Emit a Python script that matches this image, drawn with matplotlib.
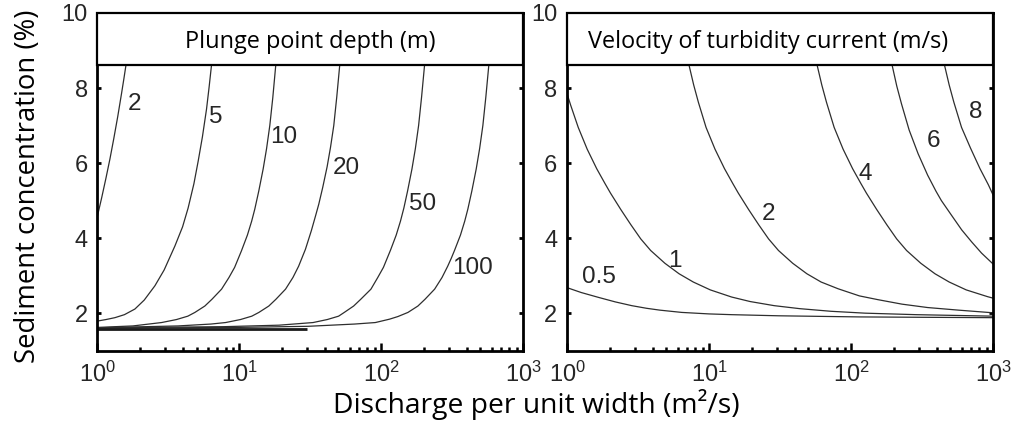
import matplotlib
matplotlib.use("Agg")
import matplotlib.pyplot as plt
from matplotlib.patches import Rectangle
from matplotlib.ticker import LogLocator, NullFormatter

# ---------------- data ----------------
# Left panel: plunge point depth curves, x = log10(q) with q in m2/s, y = C in %
depth_labels = ["2", "5", "10", "20", "50", "100"]
h2_lq = [0.0, 0.03, 0.06, 0.088, 0.115, 0.143, 0.17, 0.186, 0.201, 0.218]
h2_c = [4.59, 5.08, 5.6, 6.11, 6.65, 7.24, 7.86, 8.24, 8.61, 9.05]
h5_lq = [0.0, 0.06, 0.123, 0.19, 0.264, 0.33, 0.405, 0.47, 0.546, 0.60, 0.639,
         0.68, 0.71, 0.74, 0.769, 0.787, 0.804, 0.821]
h5_c = [1.79, 1.83, 1.88, 1.96, 2.11, 2.35, 2.73, 3.15, 3.79, 4.3, 4.80,
        5.45, 6.05, 6.7, 7.44, 8.02, 8.61, 9.2]
h10_lq = [0.0, 0.25, 0.452, 0.557, 0.637, 0.687, 0.757, 0.807, 0.875, 0.927, 0.967,
          1.015, 1.057, 1.087, 1.109, 1.137, 1.168, 1.192, 1.215, 1.236, 1.257, 1.273]
h10_c = [1.62, 1.66, 1.75, 1.83, 1.92, 2.02, 2.19, 2.37, 2.64, 2.95, 3.22,
         3.66, 4.08, 4.45, 4.77, 5.25, 5.84, 6.38, 7.0, 7.74, 8.61, 9.2]
h20_lq = [0.0, 0.569, 0.80, 0.903, 1.008, 1.088, 1.138, 1.208, 1.258, 1.326, 1.378,
          1.418, 1.466, 1.508, 1.538, 1.56, 1.588, 1.619, 1.643, 1.666, 1.687, 1.708, 1.724]
h20_c = [1.61, 1.66, 1.71, 1.75, 1.83, 1.92, 2.02, 2.19, 2.37, 2.64, 2.95,
         3.25, 3.7, 4.2, 4.6, 4.9, 5.35, 5.9, 6.42, 7.0, 7.76, 8.61, 9.2]
h50_lq = [0.0, 0.89, 1.28, 1.52, 1.62, 1.70, 1.74, 1.806, 1.856, 1.928, 1.976, 2.016,
          2.066, 2.106, 2.136, 2.16, 2.186, 2.217, 2.241, 2.264, 2.285, 2.306, 2.322]
h50_c = [1.61, 1.64, 1.68, 1.75, 1.83, 1.92, 2.02, 2.19, 2.37, 2.64, 2.95, 3.22,
         3.68, 4.08, 4.45, 4.8, 5.25, 5.84, 6.38, 7.0, 7.76, 8.61, 9.2]
h100_lq = [0.0, 0.986, 1.485, 1.813, 1.959, 2.059, 2.118, 2.189, 2.259, 2.309, 2.377,
           2.429, 2.469, 2.494, 2.517, 2.559, 2.589, 2.611, 2.639, 2.67, 2.694, 2.717,
           2.738, 2.759, 2.775]
h100_c = [1.60, 1.62, 1.65, 1.71, 1.75, 1.84, 1.91, 2.02, 2.19, 2.37, 2.64,
          2.95, 3.25, 3.46, 3.67, 4.08, 4.45, 4.77, 5.25, 5.84, 6.38, 7.0,
          7.76, 8.61, 9.2]
base_q = [1.0, 30.0]          # thick baseline segment
base_c = [1.59, 1.59]
depth_label_q = [1.828, 6.87, 20.65, 56.9, 195.4, 443.6]
depth_label_c = [7.57, 7.24, 6.70, 5.88, 4.91, 3.20]

# Right panel: velocity of turbidity current curves
vel_labels = ["0.5", "1", "2", "4", "6", "8"]
v05_lq = [0.0, 0.1, 0.222, 0.34, 0.456, 0.56, 0.655, 0.808, 1.0, 1.16, 1.49, 2.06, 2.5, 3.0]
v05_c = [2.68, 2.55, 2.42, 2.30, 2.20, 2.13, 2.08, 2.02, 1.98, 1.96, 1.93, 1.90, 1.89, 1.88]
v1_lq = [0.0, 0.025, 0.079, 0.142, 0.209, 0.268, 0.306, 0.379, 0.449, 0.519, 0.589,
         0.689, 0.789, 0.889, 1.009, 1.159, 1.289, 1.459, 1.639, 1.859, 2.099, 2.459, 3.0]
v1_c = [7.85, 7.55, 6.95, 6.37, 5.85, 5.45, 5.2, 4.76, 4.36, 3.98, 3.67,
        3.33, 3.05, 2.83, 2.62, 2.43, 2.31, 2.20, 2.12, 2.05, 2.0, 1.96, 1.92]
v2_lq = [0.83, 0.859, 0.892, 0.925, 0.979, 1.042, 1.109, 1.168, 1.206, 1.279, 1.349,
         1.419, 1.489, 1.589, 1.689, 1.789, 1.909, 2.059, 2.189, 2.359, 2.539, 2.759, 3.0]
v2_c = [9.1, 8.61, 8.08, 7.62, 6.95, 6.37, 5.85, 5.45, 5.2, 4.76, 4.36,
        3.98, 3.67, 3.33, 3.05, 2.83, 2.65, 2.46, 2.36, 2.24, 2.15, 2.08, 2.01]
v4_lq = [1.73, 1.761, 1.794, 1.827, 1.881, 1.944, 2.011, 2.07, 2.108, 2.181, 2.251,
         2.321, 2.391, 2.491, 2.591, 2.691, 2.811, 2.961, 3.0]
v4_c = [9.1, 8.61, 8.08, 7.62, 6.95, 6.37, 5.85, 5.45, 5.2, 4.76, 4.36,
        3.98, 3.67, 3.33, 3.05, 2.83, 2.62, 2.44, 2.40]
v6_lq = [2.26, 2.289, 2.322, 2.355, 2.409, 2.472, 2.539, 2.598, 2.636, 2.709, 2.779,
         2.849, 2.919, 3.0]
v6_c = [9.1, 8.61, 8.05, 7.58, 6.88, 6.25, 5.68, 5.25, 5.0, 4.6, 4.22,
        3.9, 3.6, 3.31]
v8_lq = [2.63, 2.658, 2.691, 2.724, 2.778, 2.841, 2.908, 2.967, 3.0]
v8_c = [9.1, 8.61, 8.08, 7.62, 6.95, 6.4, 5.85, 5.42, 5.15]
vel_label_q = [1.687, 5.77, 26.2, 125.9, 377.6, 753.4]
vel_label_c = [2.97, 3.40, 4.64, 5.71, 6.60, 7.35]

panel_titles = ["Plunge point depth (m)", "Velocity of turbidity current (m/s)"]
xlabel = "Discharge per unit width (m²/s)"
ylabel = "Sediment concentration (%)"
y_ticks = [2, 4, 6, 8, 10]

# ---------------- style ----------------
plt.rcParams["font.family"] = ["Liberation Sans", "DejaVu Sans"]
plt.rcParams["mathtext.default"] = "regular"
CAL = ["Open Sans", "DejaVu Sans"]
LINE_C = "#2e2e2e"
TXT_C = "#262626"

fig = plt.figure(figsize=(10.12, 4.24), dpi=100)
ax1 = fig.add_axes([0.0963, 0.1729, 0.4205, 0.7965])
ax2 = fig.add_axes([0.5603, 0.1729, 0.4210, 0.7965])

left_series = [(h2_lq, h2_c), (h5_lq, h5_c), (h10_lq, h10_c), (h20_lq, h20_c),
               (h50_lq, h50_c), (h100_lq, h100_c)]
right_series = [(v05_lq, v05_c), (v1_lq, v1_c), (v2_lq, v2_c), (v4_lq, v4_c),
                (v6_lq, v6_c), (v8_lq, v8_c)]

for lq, c in left_series:
    ax1.plot([10 ** v for v in lq], c, color=LINE_C, lw=0.9)
ax1.plot(base_q, base_c, color="#1a1a1a", lw=2.0, solid_capstyle="butt")
for lq, c in right_series:
    ax2.plot([10 ** v for v in lq], c, color=LINE_C, lw=0.9)

for lab, x, y in zip(depth_labels, depth_label_q, depth_label_c):
    ax1.text(x, y, lab, ha="center", va="center", fontsize=17.5, color=TXT_C)
for lab, x, y in zip(vel_labels, vel_label_q, vel_label_c):
    ax2.text(x, y, lab, ha="center", va="center", fontsize=17.5, color=TXT_C)

box_y = 0.846
title_x = [0.50, 0.471]
for ax, title, tx in zip((ax1, ax2), panel_titles, title_x):
    ax.set_xscale("log")
    ax.set_xlim(1, 1000)
    ax.set_ylim(1, 10)
    ax.set_yticks(y_ticks)
    ax.xaxis.set_major_locator(LogLocator(base=10, numticks=10))
    ax.xaxis.set_minor_locator(LogLocator(base=10, subs=[2, 3, 4, 5, 6, 7, 8, 9], numticks=10))
    ax.xaxis.set_minor_formatter(NullFormatter())
    ax.tick_params(axis="x", which="major", direction="in", length=6, width=1.8,
                   labelsize=17, pad=8, colors="black", labelcolor=TXT_C, top=False)
    ax.tick_params(axis="x", which="minor", direction="in", length=3, width=1.8,
                   top=False, colors="black")
    ax.tick_params(axis="y", which="major", direction="in", length=3, width=2.0,
                   labelsize=17, pad=7, left=True, right=True, labelcolor=TXT_C)
    for s in ax.spines.values():
        s.set_linewidth(2.0)
        s.set_color("black")
    rect = Rectangle((0, box_y), 1, 1 - box_y, transform=ax.transAxes,
                     facecolor="white", edgecolor="black", lw=1.6, zorder=2.6,
                     clip_on=False)
    ax.add_patch(rect)
    ax.text(tx, 0.895, title, transform=ax.transAxes, ha="center", va="baseline",
            fontsize=16.9, family=CAL, color="black", zorder=3)

fig.text(0.0277, 0.56, ylabel, rotation=90, ha="center", va="center",
         fontsize=19.8, family=CAL, color="black")
fig.text(0.530, 0.026, xlabel, ha="center", va="baseline",
         fontsize=20.3, family=CAL, color="black")

fig.savefig("out.png", dpi=100)
